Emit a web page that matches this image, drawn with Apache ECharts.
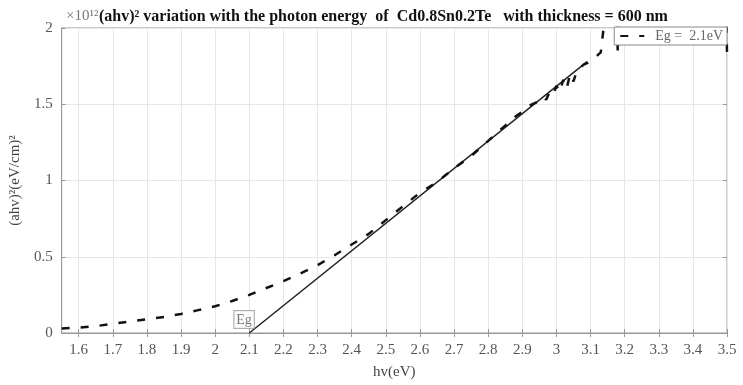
<!DOCTYPE html>
<html>
<head>
<meta charset="utf-8">
<script src="https://cdn.jsdelivr.net/npm/echarts@6/dist/echarts.min.js"></script>
<style>
  html, body { margin: 0; padding: 0; background: #fff; }
  #main { width: 743px; height: 385px; }
</style>
</head>
<body>
<div id="main"></div>
<script>
// photon energy (eV) and (ahv)^2 in units of 1e12
const energy = [1.55, 1.60, 1.65, 1.70, 1.75, 1.80, 1.85, 1.90, 1.95, 2.00,
  2.05, 2.10, 2.15, 2.20, 2.25, 2.30, 2.35, 2.40, 2.45, 2.50,
  2.55, 2.60, 2.65, 2.70, 2.75, 2.80, 2.85, 2.88, 2.90, 2.92,
  2.94, 2.96, 2.97, 2.98, 2.99, 3.00, 3.01, 3.02, 3.03, 3.04,
  3.05, 3.06, 3.08, 3.10, 3.13, 3.17, 3.18, 3.185, 3.495, 3.50];
const ahv2 = [0.03, 0.035, 0.045, 0.06, 0.075, 0.09, 0.105, 0.125, 0.15, 0.175,
  0.21, 0.25, 0.295, 0.34, 0.39, 0.445, 0.51, 0.58, 0.65, 0.74,
  0.83, 0.92, 0.99, 1.08, 1.16, 1.26, 1.36, 1.42, 1.45, 1.49,
  1.51, 1.55, 1.53, 1.58, 1.56, 1.62, 1.58, 1.66, 1.60, 1.70,
  1.65, 1.72, 1.76, 1.78, 1.84, 2.6, 1.83, 2.6, 2.6, 1.83];

// linear fit used to read the band gap
const fitX = [2.1, 3.09];
const fitY = [0, 1.78];
const bandGap = 2.1;

const xTicks = [1.6, 1.7, 1.8, 1.9, 2, 2.1, 2.2, 2.3, 2.4, 2.5, 2.6, 2.7, 2.8, 2.9, 3, 3.1, 3.2, 3.3, 3.4, 3.5];
const yTicks = [0, 0.5, 1, 1.5, 2];
const legendName = "Eg =  2.1eV";

const font = "'Liberation Serif', 'DejaVu Serif', serif";
const chart = echarts.init(document.getElementById("main"));

const option = {
  animation: false,
  backgroundColor: "#fff",
  textStyle: { fontFamily: font },
  title: [
    {
      text: "(ahv)² variation with the photon energy  of  Cd0.8Sn0.2Te   with thickness = 600 nm",
      left: 94,
      top: 4,
      textStyle: { fontFamily: font, fontSize: 16, fontWeight: "bold", color: "#111" },
    },
    {
      text: "×10¹²",
      left: 61,
      top: 4,
      textStyle: { fontFamily: font, fontSize: 15, fontWeight: "normal", color: "#777" },
    },
  ],
  legend: {
    data: [{ name: legendName, itemStyle: { opacity: 0 } }],
    right: 16,
    top: 27,
    z: 20,
    orient: "horizontal",
    backgroundColor: "#fff",
    borderColor: "#888",
    borderWidth: 1,
    padding: [2, 4, 2, 5],
    itemWidth: 24,
    itemHeight: 12,
    itemGap: 4,
    textStyle: { fontFamily: font, fontSize: 14, color: "#666", padding: [0, 0, 0, 6] },
  },
  grid: {
    left: 61,
    right: 16,
    top: 28,
    bottom: 52,
    show: true,
    borderColor: "#999",
    borderWidth: 1,
    backgroundColor: "#fff",
  },
  xAxis: [
    {
      type: "value",
      min: 1.55,
      max: 3.5,
      name: "hv(eV)",
      nameLocation: "middle",
      nameGap: 32,
      nameTextStyle: { fontFamily: font, fontSize: 15, color: "#444" },
      axisLine: { show: true, lineStyle: { color: "#999" } },
      axisTick: { show: true, inside: true, length: 4, customValues: xTicks, lineStyle: { color: "#999" } },
      axisLabel: {
        customValues: xTicks,
        fontFamily: font,
        fontSize: 15,
        color: "#555",
        margin: 10,
        formatter: (v) => String(Math.round(v * 10) / 10),
      },
      splitLine: { show: true, lineStyle: { color: "#e6e6e6", width: 1 } },
    },
    {
      type: "value",
      position: "top",
      min: 1.55,
      max: 3.5,
      axisLine: { show: false },
      axisTick: { show: true, inside: true, length: 4, customValues: xTicks, lineStyle: { color: "#999" } },
      axisLabel: { show: false, customValues: xTicks },
      splitLine: { show: false },
    },
  ],
  yAxis: [
    {
      type: "value",
      min: 0,
      max: 2,
      interval: 0.5,
      name: "(ahv)²(eV/cm)²",
      nameLocation: "middle",
      nameGap: 31,
      nameRotate: 90,
      nameTextStyle: { fontFamily: font, fontSize: 15, color: "#444" },
      axisLine: { show: true, lineStyle: { color: "#999" } },
      axisTick: { show: true, inside: true, length: 4, lineStyle: { color: "#999" } },
      axisLabel: {
        fontFamily: font,
        fontSize: 15,
        color: "#555",
        margin: 9,
        formatter: (v) => (yTicks.includes(v) ? String(v) : ""),
      },
      splitLine: { show: true, lineStyle: { color: "#e6e6e6", width: 1 } },
    },
    {
      type: "value",
      position: "right",
      min: 0,
      max: 2,
      interval: 0.5,
      axisLine: { show: false },
      axisTick: { show: true, inside: true, length: 4, lineStyle: { color: "#999" } },
      axisLabel: { show: false },
      splitLine: { show: false },
    },
  ],
  series: [
    {
      name: "fit",
      type: "line",
      xAxisIndex: 0,
      yAxisIndex: 0,
      symbol: "none",
      silent: true,
      lineStyle: { color: "#222", width: 1.5, type: "solid" },
      data: fitX.map((x, i) => [x, fitY[i]]),
      z: 3,
    },
    {
      name: legendName,
      type: "line",
      xAxisIndex: 0,
      yAxisIndex: 0,
      symbol: "none",
      showSymbol: false,
      clip: true,
      lineStyle: { color: "#111", width: 2.5, type: [8, 11] },
      itemStyle: { color: "#111" },
      data: energy.map((x, i) => [x, ahv2[i]]),
      z: 4,
    },
    {
      name: "Eg",
      type: "scatter",
      xAxisIndex: 0,
      yAxisIndex: 0,
      symbolSize: 0,
      silent: true,
      data: [[bandGap, 0]],
      label: {
        show: true,
        formatter: "Eg",
        position: [-15, -22],
        fontFamily: font,
        fontSize: 14,
        color: "#555",
        backgroundColor: "#fff",
        borderColor: "#999",
        borderWidth: 1,
        padding: [2, 2, 1, 2],
      },
      z: 5,
    },
  ],
};

chart.setOption(option);
</script>
</body>
</html>
